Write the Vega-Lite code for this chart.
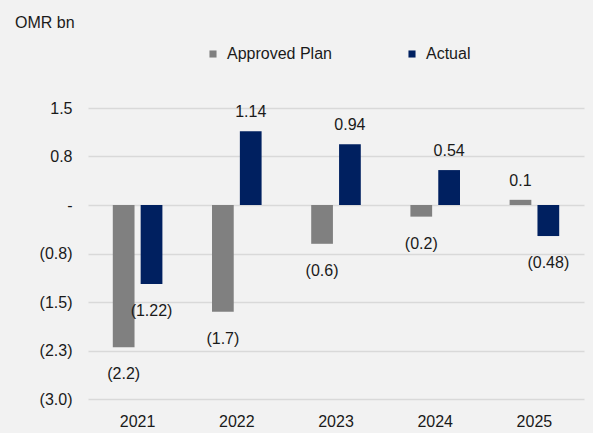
{
  "$schema": "https://vega.github.io/schema/vega-lite/v6.json",
  "autosize": "none",
  "width": 496,
  "height": 291,
  "padding": {"left": 88, "top": 108, "right": 9, "bottom": 34},
  "background": "#f2f2f2",
  "title": {
    "text": "OMR bn",
    "anchor": "start",
    "frame": "group",
    "dx": -73,
    "offset": 2,
    "baseline": "alphabetic",
    "font": "Liberation Sans",
    "fontSize": 16,
    "fontWeight": "normal",
    "color": "#1a1a1a"
  },
  "config": {
    "view": {"stroke": null},
    "font": "Liberation Sans"
  },
  "data": {
    "values": [
      {"year": "2021", "series": "Approved Plan", "value": -2.2, "label": "(2.2)"},
      {"year": "2021", "series": "Actual", "value": -1.22, "label": "(1.22)"},
      {"year": "2022", "series": "Approved Plan", "value": -1.65, "label": "(1.7)"},
      {"year": "2022", "series": "Actual", "value": 1.14, "label": "1.14"},
      {"year": "2023", "series": "Approved Plan", "value": -0.6, "label": "(0.6)"},
      {"year": "2023", "series": "Actual", "value": 0.94, "label": "0.94"},
      {"year": "2024", "series": "Approved Plan", "value": -0.18, "label": "(0.2)"},
      {"year": "2024", "series": "Actual", "value": 0.54, "label": "0.54"},
      {"year": "2025", "series": "Approved Plan", "value": 0.08, "label": "0.1"},
      {"year": "2025", "series": "Actual", "value": -0.48, "label": "(0.48)"}
    ]
  },
  "encoding": {
    "x": {
      "field": "year",
      "type": "nominal",
      "scale": {"paddingInner": 0.5, "paddingOuter": 0.25},
      "axis": {
        "title": null,
        "labelAngle": 0,
        "domain": false,
        "ticks": false,
        "labelPadding": 14,
        "labelFontSize": 16,
        "labelColor": "#1a1a1a"
      }
    },
    "xOffset": {
      "field": "series",
      "type": "nominal",
      "sort": ["Approved Plan", "Actual"],
      "scale": {"paddingInner": 0.22}
    },
    "y": {
      "field": "value",
      "type": "quantitative",
      "scale": {"domain": [-3, 1.5], "nice": false, "zero": true},
      "axis": {
        "title": null,
        "values": [-3, -2.25, -1.5, -0.75, 0, 0.75, 1.5],
        "labelExpr": "datum.value == 0 ? '-' : (datum.value < 0 ? '(' + format(-datum.value, '.1f') + ')' : format(datum.value, '.1f'))",
        "domain": false,
        "ticks": false,
        "grid": true,
        "gridColor": "#d9d9d9",
        "gridWidth": 1.5,
        "labelPadding": 16,
        "labelFontSize": 16,
        "labelColor": "#1a1a1a"
      }
    }
  },
  "layer": [
    {
      "mark": {"type": "bar"},
      "encoding": {
        "color": {
          "field": "series",
          "type": "nominal",
          "sort": ["Approved Plan", "Actual"],
          "scale": {"domain": ["Approved Plan", "Actual"], "range": ["#808080", "#002060"]},
          "legend": {
            "title": null,
            "orient": "none",
            "direction": "horizontal",
            "legendX": 117,
            "legendY": -62,
            "symbolType": "square",
            "symbolSize": 50,
            "symbolStrokeWidth": 0,
            "labelFontSize": 16,
            "labelColor": "#1a1a1a",
            "labelOffset": 6,
            "columnPadding": 72
          }
        }
      }
    },
    {
      "transform": [{"filter": "datum.value < 0"}],
      "mark": {"type": "text", "fontSize": 16, "baseline": "middle", "dy": 27, "color": "#1a1a1a"},
      "encoding": {"text": {"field": "label"}}
    },
    {
      "transform": [{"filter": "datum.value >= 0"}],
      "mark": {"type": "text", "fontSize": 16, "baseline": "middle", "dy": -19, "color": "#1a1a1a"},
      "encoding": {"text": {"field": "label"}}
    }
  ]
}
